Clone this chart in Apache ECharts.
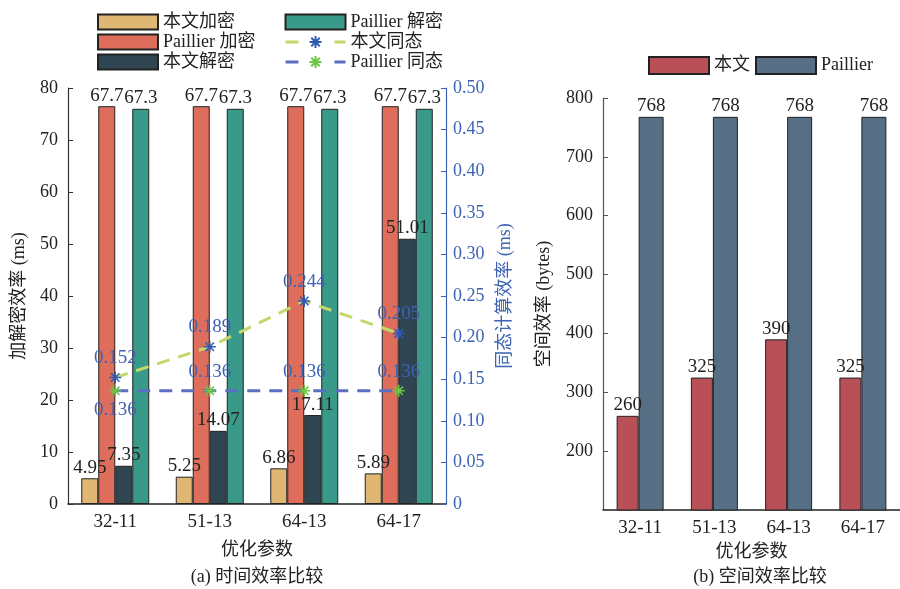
<!DOCTYPE html>
<html><head><meta charset="utf-8">
<script src="https://cdn.jsdelivr.net/npm/echarts@6/dist/echarts.min.js"></script>
<style>html,body{margin:0;padding:0;background:#fff}#c{width:900px;height:589px}</style>
</head><body><div id="c"></div>
<script>
var categories = ['32-11', '51-13', '64-13', '64-17'];
var oursEnc = [4.95, 5.25, 6.86, 5.89];
var paillierEnc = [76.5, 76.5, 76.5, 76.5];
var paillierEncLabels = ['67.7', '67.7', '67.7', '67.7'];
var oursDec = [7.35, 14.07, 17.11, 51.01];
var paillierDec = [76.0, 76.0, 76.0, 76.0];
var paillierDecLabels = ['67.3', '67.3', '67.3', '67.3'];
var oursHomo = [0.152, 0.189, 0.244, 0.205];
var paillierHomo = [0.136, 0.136, 0.136, 0.136];
var spaceOurs = [260, 325, 390, 325];
var spacePaillier = [768, 768, 768, 768];

var FONT = '"Liberation Serif", "Noto Sans CJK SC", serif';
var BLUE = '#3d63b5';
var STAR = 'path://M10,0L10,20M0,10L20,10M3,3L17,17M3,17L17,3';
var FS = 18;

function barLabel(arr) {
  return {show: true, position: 'top', distance: 1, color: '#222', fontSize: 19, fontFamily: FONT,
    formatter: arr ? function (p) { return arr[p.dataIndex]; } : '{c}'};
}
var edge = {borderColor: '#222', borderWidth: 1};
var legText = {fontSize: FS, color: '#222', fontFamily: FONT};

var chart = echarts.init(document.getElementById('c'), null, {renderer: 'canvas'});
chart.setOption({
  animation: false,
  textStyle: {fontFamily: FONT},
  grid: [
    {left: 68, right: 454, top: 88, bottom: 85},
    {left: 603, right: 0, top: 98, bottom: 79}
  ],
  legend: [
    {orient: 'vertical', left: 92, top: 8, itemWidth: 60, itemHeight: 15, itemGap: 2, icon: 'rect',
      textStyle: legText, data: ['本文加密', 'Paillier 加密', '本文解密']},
    {orient: 'vertical', left: 279, top: 8, itemWidth: 60, itemHeight: 15, itemGap: 2,
      textStyle: legText, lineStyle: {type: [13, 36], width: 3},
      data: [{name: 'Paillier 解密', icon: 'rect'}, {name: '本文同态'}, {name: 'Paillier 同态'}]},
    {orient: 'horizontal', left: 643, top: 51, itemWidth: 60, itemHeight: 17, itemGap: 5, icon: 'rect',
      textStyle: legText, data: ['本文', 'Paillier']}
  ],
  xAxis: [
    {type: 'category', gridIndex: 0, data: categories,
      axisLine: {lineStyle: {color: '#222', width: 1.5}}, axisTick: {show: false},
      axisLabel: {fontSize: 19, color: '#222', fontFamily: FONT, margin: 9},
      name: '优化参数', nameLocation: 'middle', nameGap: 37,
      nameTextStyle: {fontSize: FS, color: '#222', fontFamily: FONT}},
    {type: 'category', gridIndex: 1, data: categories,
      axisLine: {lineStyle: {color: '#222', width: 1.5}}, axisTick: {show: false},
      axisLabel: {fontSize: 19, color: '#222', fontFamily: FONT, margin: 9},
      name: '优化参数', nameLocation: 'middle', nameGap: 31,
      nameTextStyle: {fontSize: FS, color: '#222', fontFamily: FONT}}
  ],
  yAxis: [
    {type: 'value', gridIndex: 0, min: 0, max: 80, interval: 10, splitLine: {show: false},
      axisLine: {show: true, lineStyle: {color: '#333', width: 1.2}},
      axisTick: {show: true, inside: true, length: 5, lineStyle: {color: '#333'}},
      axisLabel: {fontSize: FS, color: '#222', fontFamily: FONT, margin: 10},
      name: '加解密效率 (ms)', nameLocation: 'middle', nameGap: 40, nameRotate: 90,
      nameTextStyle: {fontSize: FS, color: '#222', fontFamily: FONT}},
    {type: 'value', gridIndex: 0, position: 'right', min: 0, max: 0.5, interval: 0.05, splitLine: {show: false},
      axisLine: {show: true, lineStyle: {color: BLUE, width: 1.2}},
      axisTick: {show: true, inside: true, length: 5, lineStyle: {color: BLUE}},
      axisLabel: {fontSize: FS, color: BLUE, fontFamily: FONT, margin: 7,
        formatter: function (v) { return v === 0 ? '0' : v.toFixed(2); }},
      name: '同态计算效率 (ms)', nameLocation: 'middle', nameGap: 50, nameRotate: 90,
      nameTextStyle: {fontSize: FS, color: BLUE, fontFamily: FONT}},
    {type: 'value', gridIndex: 1, min: 100, max: 800, interval: 100, splitLine: {show: false},
      axisLine: {show: true, lineStyle: {color: '#555', width: 1.2}},
      axisTick: {show: true, inside: true, length: 5, lineStyle: {color: '#555'}},
      axisLabel: {fontSize: FS, color: '#222', fontFamily: FONT, margin: 10,
        formatter: function (v) { return v === 100 ? '' : String(v); }},
      name: '空间效率 (bytes)', nameLocation: 'middle', nameGap: 50, nameRotate: 90,
      nameTextStyle: {fontSize: FS, color: '#222', fontFamily: FONT}}
  ],
  series: [
    {name: '本文加密', type: 'bar', xAxisIndex: 0, yAxisIndex: 0, data: oursEnc, barWidth: 17, barGap: '0%',
      itemStyle: Object.assign({color: '#dfb772'}, edge), label: barLabel()},
    {name: 'Paillier 加密', type: 'bar', xAxisIndex: 0, yAxisIndex: 0, data: paillierEnc, barWidth: 17, barGap: '0%',
      itemStyle: Object.assign({color: '#df6d5b'}, edge), label: barLabel(paillierEncLabels)},
    {name: '本文解密', type: 'bar', xAxisIndex: 0, yAxisIndex: 0, data: oursDec, barWidth: 17, barGap: '0%',
      itemStyle: Object.assign({color: '#2f4652'}, edge), label: barLabel()},
    {name: 'Paillier 解密', type: 'bar', xAxisIndex: 0, yAxisIndex: 0, data: paillierDec, barWidth: 17, barGap: '0%',
      itemStyle: Object.assign({color: '#3a9a89'}, edge), label: barLabel(paillierDecLabels)},
    {name: '本文同态', type: 'line', xAxisIndex: 0, yAxisIndex: 1, data: oursHomo, z: 5,
      symbol: STAR, symbolSize: 12,
      lineStyle: {color: '#c3d86b', width: 3, type: [13, 9]},
      itemStyle: {color: 'rgba(0,0,0,0)', borderColor: '#2f5bb5', borderWidth: 1.5},
      label: {show: true, position: 'top', distance: 3, color: BLUE, fontSize: 19, fontFamily: FONT}},
    {name: 'Paillier 同态', type: 'line', xAxisIndex: 0, yAxisIndex: 1, z: 5,
      data: paillierHomo.map(function (v, i) {
        return i === 0 ? {value: v, label: {position: 'bottom'}} : v;
      }),
      symbol: STAR, symbolSize: 12,
      lineStyle: {color: '#5a6ec2', width: 3, type: [13, 9]},
      itemStyle: {color: 'rgba(0,0,0,0)', borderColor: '#6cc644', borderWidth: 1.5},
      label: {show: true, position: 'top', distance: 3, color: BLUE, fontSize: 19, fontFamily: FONT}},
    {name: '本文', type: 'bar', xAxisIndex: 1, yAxisIndex: 2, data: spaceOurs, barWidth: 22, barGap: '0%',
      itemStyle: Object.assign({color: '#b94f57'}, edge), label: barLabel()},
    {name: 'Paillier', type: 'bar', xAxisIndex: 1, yAxisIndex: 2, data: spacePaillier, barWidth: 25, barGap: '0%',
      itemStyle: Object.assign({color: '#576f84'}, edge), label: barLabel()}
  ],
  graphic: [
    {type: 'text', style: {text: '(a) 时间效率比较', fill: '#222', font: FS + 'px ' + FONT,
      x: 257, y: 577, align: 'center', verticalAlign: 'middle'}},
    {type: 'text', style: {text: '(b) 空间效率比较', fill: '#222', font: FS + 'px ' + FONT,
      x: 760, y: 577, align: 'center', verticalAlign: 'middle'}}
  ]
});
</script></body></html>
